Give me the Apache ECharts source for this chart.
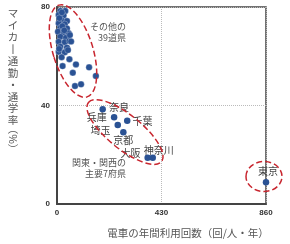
<!DOCTYPE html>
<html><head><meta charset="utf-8">
<script src="https://cdn.jsdelivr.net/npm/echarts@6/dist/echarts.min.js"></script>
<style>html,body{margin:0;padding:0;background:#fff}#c{width:290px;height:244px}</style>
</head><body><div id="c"></div>
<script>
// ---- data ----
const xTicks = [0, 430, 860];
const yTicks = [0, 40, 80];
const otherX = [14,34,7,27,18,41,7,32,14,41,4,27,48,14,37,7,32,51,14,41,7,32,53,58,22,10,45,20,30,9,19,51,23,78,132,65,160,74,99];
const otherY = [78.4,78.4,76.8,76.5,74.7,74.3,73.4,73,71.6,71.3,70,69.7,69.3,67.9,67.5,65.9,65.7,66.2,63.9,63.5,61.8,61.6,68.6,66,72.2,75.5,62.5,77.8,70.5,63,59.6,58.8,56,56.7,55.5,53.3,52,47.9,48.6];
const majorNames = ['奈良','兵庫','千葉','埼玉','京都','大阪','神奈川','東京'];
const majorX = [188,235,289,250,273,373,394,860];
const majorY = [38.5,35.2,33.8,32.1,29.1,18.8,18.8,8.8];
const xTitle = '電車の年間利用回数（回/人・年）';
const yTitleChars = ['マ','イ','カ','丨','通','勤','・','通','学','率'];
const yTitleTail = '（%）';
const groupOther = ['その他の','39道県'];
const groupMajor = ['関東・関西の','主要7府県'];

// label placement (style)
const labelPos = {
  '奈良':{position:'right',distance:3,offset:[0,-2]},
  '兵庫':{position:'left',distance:4,offset:[0,0]},
  '千葉':{position:'right',distance:2,offset:[0,0]},
  '埼玉':{position:'left',distance:4,offset:[0,5]},
  '京都':{position:'bottom',distance:0,offset:[0,0]},
  '大阪':{position:'left',distance:4,offset:[0,-5]},
  '神奈川':{position:'top',distance:0,offset:[6,1]},
  '東京':{position:'top',distance:3,offset:[2,0]}
};

const FONT = '"Noto Sans CJK JP","Noto Sans",sans-serif';
const chart = echarts.init(document.getElementById('c'), null, {renderer:'canvas'});
const ptColor = '#2a5294';
const red = '#c8262f';

const majorData = majorNames.map((n,i)=>({
  name:n, value:[majorX[i], majorY[i]],
  label:Object.assign({show:true, formatter:'{b}', color:'#444', fontSize:10, fontFamily:FONT}, labelPos[n])
}));
const otherData = otherX.map((x,i)=>[x, otherY[i]]);

const ell = (cx,cy,rx,ry,rot)=>({
  type:'ellipse', x:cx, y:cy, rotation:rot, z:5,
  shape:{cx:0,cy:0,rx:rx,ry:ry},
  style:{fill:'none', stroke:red, lineWidth:1.5, lineDash:[6,3]}
});
const txt = (t,x,y,align,size,extra)=>Object.assign({
  type:'text', x:x, y:y, z:10,
  style:{text:t, fill:'#555', font:size+'px '+FONT, textAlign:align, textVerticalAlign:'middle'}
}, extra||{});

chart.setOption({
  animation:false,
  grid:{left:57, right:24, top:7, bottom:40, show:true, borderColor:'#444', borderWidth:1.5},
  xAxis:{type:'value', min:xTicks[0], max:xTicks[2], interval:xTicks[1]-xTicks[0],
    axisLine:{show:true, lineStyle:{color:'#444', width:2}}, axisTick:{show:false},
    axisLabel:{color:'#333', fontSize:8, fontWeight:'bold', fontFamily:'Liberation Sans', margin:5},
    splitLine:{show:true, lineStyle:{color:'#bbb', type:'dotted', width:1}}},
  yAxis:{type:'value', min:yTicks[0], max:yTicks[2], interval:yTicks[1]-yTicks[0],
    axisLine:{show:true, lineStyle:{color:'#444', width:2}}, axisTick:{show:false},
    axisLabel:{color:'#333', fontSize:8, fontWeight:'bold', fontFamily:'Liberation Sans', margin:7},
    splitLine:{show:true, lineStyle:{color:'#bbb', type:'dotted', width:1}}},
  series:[
    {type:'scatter', data:otherData, symbolSize:6.5,
      itemStyle:{color:ptColor, borderColor:'rgba(255,255,255,0.45)', borderWidth:0.6, opacity:1}},
    {type:'scatter', data:majorData, symbolSize:6.5,
      itemStyle:{color:ptColor, opacity:1}}
  ],
  graphic:[
    ell(73,51,20,48,0.297),
    ell(125,132,47,17,-0.68),
    ell(264,176.5,18,15,0),
    txt(groupOther[0],126,27,'right',9),
    txt(groupOther[1],126,38,'right',9),
    txt(groupMajor[0],126,162.7,'right',9),
    txt(groupMajor[1],126,173.3,'right',9),
    txt(xTitle,188,233,'center',10.5),
    {type:'text', x:13, y:7.3, z:10,
      style:{text:yTitleChars.join('\n'), fill:'#555', font:'10.5px '+FONT, textAlign:'center', textVerticalAlign:'top', lineHeight:11.9}},
    txt(yTitleTail,13,139,'center',10.5,{rotation:-Math.PI/2})
  ]
});
</script></body></html>
